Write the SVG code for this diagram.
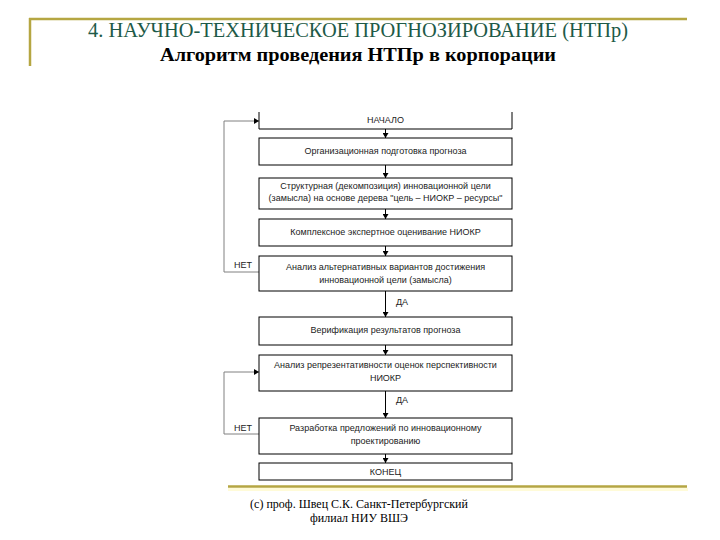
<svg xmlns="http://www.w3.org/2000/svg" width="720" height="540" viewBox="0 0 720 540">
<style>
.box{fill:#fff;stroke:#000;stroke-width:1}
.t{font-family:"Liberation Sans",Arial,sans-serif;font-size:9px;fill:#222;text-anchor:middle}
.lbl{font-family:"Liberation Sans",Arial,sans-serif;font-size:9px;fill:#222}
.flow{stroke:#000;stroke-width:1;fill:none}
.loop{stroke:#808080;stroke-width:1;fill:none}
.gold{stroke:#b5a642;fill:none}
.serif{font-family:"Liberation Serif","Times New Roman",serif}
</style>
<defs>
<marker id="ah" markerUnits="userSpaceOnUse" markerWidth="6" markerHeight="6" refX="5" refY="3" orient="auto">
<path d="M0,0 L5,3 L0,6 Z" fill="#000"/>
</marker>
</defs>
<rect width="720" height="540" fill="#fff"/>
<g id="header">
<line class="gold" x1="29" y1="19" x2="687" y2="19" stroke-width="2.5"/>
<line class="gold" x1="30" y1="18" x2="30" y2="66" stroke-width="2.5"/>
<text class="serif" x="358" y="37" font-size="20" fill="#1e5a48" text-anchor="middle" textLength="540" lengthAdjust="spacingAndGlyphs">4. НАУЧНО-ТЕХНИЧЕСКОЕ ПРОГНОЗИРОВАНИЕ (НТПр)</text>
<text class="serif" x="358" y="61" font-size="18" font-weight="bold" fill="#000" text-anchor="middle" textLength="396" lengthAdjust="spacingAndGlyphs">Алгоритм проведения НТПр в корпорации</text>
</g>
<g id="connectors">
<line class="flow" x1="385.5" y1="129" x2="385.5" y2="138" marker-end="url(#ah)"/>
<line class="flow" x1="385.5" y1="165" x2="385.5" y2="178" marker-end="url(#ah)"/>
<line class="flow" x1="385.5" y1="209" x2="385.5" y2="219" marker-end="url(#ah)"/>
<line class="flow" x1="385.5" y1="246" x2="385.5" y2="256" marker-end="url(#ah)"/>
<line class="flow" x1="385.5" y1="291" x2="385.5" y2="317" marker-end="url(#ah)"/>
<line class="flow" x1="385.5" y1="345" x2="385.5" y2="355" marker-end="url(#ah)"/>
<line class="flow" x1="385.5" y1="391" x2="385.5" y2="418" marker-end="url(#ah)"/>
<line class="flow" x1="385.5" y1="454" x2="385.5" y2="463" marker-end="url(#ah)"/>
<polyline class="loop" points="259,272 224,272 224,121 259,121" marker-end="url(#ah)"/>
<polyline class="loop" points="259,434 224,434 224,372 259,372" marker-end="url(#ah)"/>
<text class="lbl" x="234" y="268">НЕТ</text>
<text class="lbl" x="234" y="431">НЕТ</text>
<text class="lbl" x="396" y="305">ДА</text>
<text class="lbl" x="396" y="403">ДА</text>
</g>
<g id="n1"><path class="box" d="M259,112 V129 H512 V112"/><text class="t" x="385.5" y="123">НАЧАЛО</text></g>
<g id="n2"><rect class="box" x="259" y="138" width="253" height="27"/><text class="t" x="385.5" y="154">Организационная подготовка прогноза</text></g>
<g id="n3"><rect class="box" x="259" y="178" width="253" height="31"/><text class="t" x="385.5" y="189">Структурная (декомпозиция) инновационной цели</text><text class="t" x="385.5" y="201">(замысла) на основе дерева "цель – НИОКР – ресурсы"</text></g>
<g id="n4"><rect class="box" x="259" y="219" width="253" height="27"/><text class="t" x="385.5" y="235">Комплексное экспертное оценивание НИОКР</text></g>
<g id="n5"><rect class="box" x="259" y="256" width="253" height="35"/><text class="t" x="385.5" y="270">Анализ альтернативных вариантов достижения</text><text class="t" x="385.5" y="283">инновационной цели (замысла)</text></g>
<g id="n6"><rect class="box" x="259" y="317" width="253" height="28"/><text class="t" x="385.5" y="333">Верификация результатов прогноза</text></g>
<g id="n7"><rect class="box" x="259" y="355" width="253" height="36"/><text class="t" x="385.5" y="368">Анализ репрезентативности оценок перспективности</text><text class="t" x="385.5" y="381">НИОКР</text></g>
<g id="n8"><rect class="box" x="259" y="418" width="253" height="36"/><text class="t" x="385.5" y="431">Разработка предложений по инновационному</text><text class="t" x="385.5" y="444">проектированию</text></g>
<g id="n9"><rect class="box" x="259" y="463" width="253" height="17"/><text class="t" x="385.5" y="475">КОНЕЦ</text></g>
<g id="footer">
<rect x="228" y="488" width="460" height="3" fill="#fffbd8"/>
<line class="gold" x1="228" y1="486.5" x2="687" y2="486.5" stroke-width="2.5"/>
<text class="serif" x="359" y="508" font-size="12" fill="#000" text-anchor="middle">(c) проф. Швец С.К. Санкт-Петербургский</text>
<text class="serif" x="359" y="522" font-size="12" fill="#000" text-anchor="middle">филиал НИУ ВШЭ</text>
</g>
</svg>
